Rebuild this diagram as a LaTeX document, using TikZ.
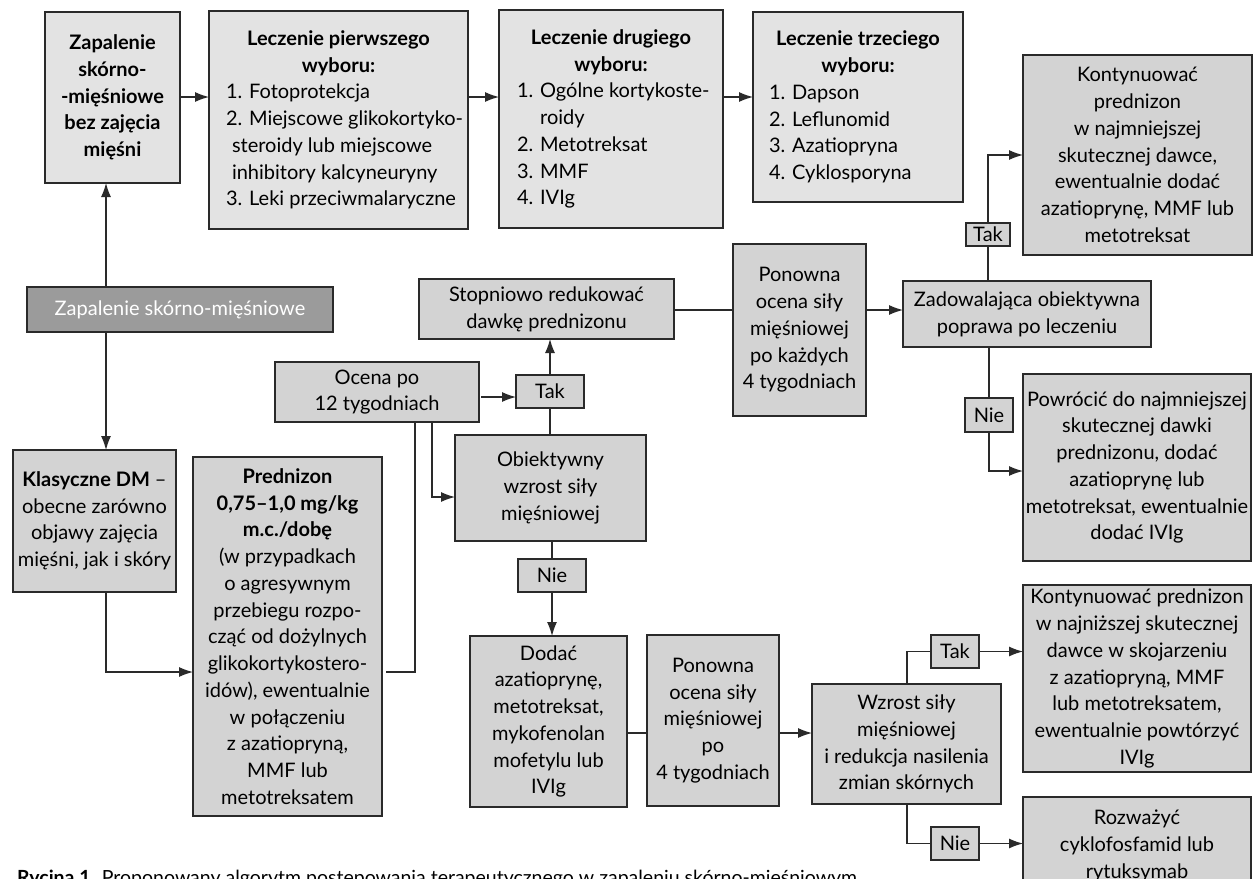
\documentclass[tikz,border=0pt]{standalone}
\usepackage{fontspec}
\setmainfont{Lato}
\usetikzlibrary{arrows.meta}
\definecolor{lightbox}{HTML}{E3E3E3}
\definecolor{midbox}{HTML}{D3D3D3}
\definecolor{darkbox}{HTML}{9B9B9B}
\definecolor{edge}{HTML}{2A2A2A}
\newcommand\diagfont{\fontsize{20}{26.75}\selectfont}
\begin{document}
\begin{tikzpicture}[x=1pt,y=-1pt,
  box/.style={draw=edge, line width=1.2pt, inner sep=0pt, outer sep=0pt, align=center, font=\diagfont},
  lbox/.style={box, fill=lightbox},
  mbox/.style={box, fill=midbox},
  dbox/.style={box, fill=darkbox, text=white},
  conn/.style={draw=edge, line width=1.2pt},
  arr/.style={conn, -{Latex[length=14pt,width=10pt]}}]
\useasboundingbox[fill=white] (0,0) rectangle (1258,878);

% top row
\node[lbox, minimum width=135, minimum height=171] (A) at (112.5,97.5)
  {\bfseries Zapalenie\\\bfseries skórno-\\\bfseries -mięśniowe\\\bfseries bez zajęcia\\\bfseries mięśni};
\node[lbox, minimum width=259, minimum height=218] (B) at (338.5,120)
  {\parbox{225pt}{\centering\bfseries Leczenie pierwszego\\wyboru:\par\raggedright\mdseries
   \mbox{1. Fotoprotekcja}\\\mbox{2. Miejscowe glikokortyko-}\\\mbox{\hspace*{6pt}steroidy lub miejscowe}\\\mbox{\hspace*{6pt}inhibitory kalcyneuryny}\\\mbox{3. Leki przeciwmalaryczne}}};
\node[lbox, minimum width=224, minimum height=218] (C) at (611,119)
  {\parbox{188pt}{\centering\bfseries Leczenie drugiego\\wyboru:\par\raggedright\mdseries
   \mbox{1. Ogólne kortykoste-}\\\mbox{\phantom{1. }roidy}\\\mbox{2. Metotreksat}\\\mbox{3. MMF}\\\mbox{4. IVIg}}};
\node[lbox, minimum width=210, minimum height=190] (D) at (858,107)
  {\parbox{178pt}{\centering\bfseries Leczenie trzeciego\\wyboru:\par\raggedright\mdseries
   \mbox{1. Dapson}\\\mbox{2. Leflunomid}\\\mbox{3. Azatiopryna}\\\mbox{4. Cyklosporyna}}};
\node[mbox, minimum width=229, minimum height=200] (E) at (1137.5,155)
  {Kontynuować\\prednizon\\w najmniejszej\\skutecznej dawce,\\ewentualnie dodać\\azatioprynę, MMF lub\\metotreksat};

% left column
\node[dbox, minimum width=306, minimum height=45] (ZSM) at (180,309.5) {Zapalenie skórno-mięśniowe};
\node[mbox, minimum width=163, minimum height=142] (Kl) at (94.5,521)
  {\textbf{Klasyczne DM} –\\obecne zarówno\\objawy zajęcia\\mięśni, jak i skóry};
\node[mbox, minimum width=189, minimum height=359] (Pred) at (287.5,636.5)
  {\textbf{Prednizon}\\\textbf{0,75–1,0 mg/kg}\\\textbf{m.c./dobę}\\(w przypadkach\\o agresywnym\\przebiegu rozpo-\\cząć od dożylnych\\glikokortykostero-\\idów), ewentualnie\\w połączeniu\\z azatiopryną,\\MMF lub\\metotreksatem};

% middle
\node[mbox, minimum width=255, minimum height=60] (Stop) at (546.5,309) {Stopniowo redukować\\dawkę prednizonu};
\node[mbox, minimum width=133, minimum height=172] (Pon1) at (799.5,330)
  {Ponowna\\ocena siły\\mięśniowej\\po każdych\\4 tygodniach};
\node[mbox, minimum width=248, minimum height=66] (Zad) at (1027,314) {Zadowalająca obiektywna\\poprawa po leczeniu};
\node[mbox, minimum width=44, minimum height=23] (TakTop) at (988,234.5) {Tak};
\node[mbox, minimum width=48, minimum height=34] (NieTop) at (989,415) {Nie};
\node[mbox, minimum width=228, minimum height=187] (H) at (1137,467.5)
  {Powrócić do najmniejszej\\skutecznej dawki\\prednizonu, dodać\\azatioprynę lub\\metotreksat, ewentualnie\\dodać IVIg};

\node[mbox, minimum width=204, minimum height=60] (Ocena) at (377,392) {Ocena po\\12 tygodniach};
\node[mbox, minimum width=68, minimum height=33] (TakMid) at (550,391.5) {Tak};
\node[mbox, minimum width=191, minimum height=106] (Obj) at (550.5,488) {Obiektywny\\wzrost siły\\mięśniowej};
\node[mbox, minimum width=68, minimum height=33] (NieMid) at (552,575.5) {Nie};

% bottom
\node[mbox, minimum width=157, minimum height=171] (Dod) at (548.5,721.5)
  {Dodać\\azatioprynę,\\metotreksat,\\mykofenolan\\mofetylu lub\\IVIg};
\node[mbox, minimum width=132, minimum height=171] (Pon2) at (713,720.5)
  {Ponowna\\ocena siły\\mięśniowej\\po\\4 tygodniach};
\node[mbox, minimum width=189, minimum height=120] (Wz) at (906.5,744)
  {Wzrost siły\\mięśniowej\\i redukcja nasilenia\\zmian skórnych};
\node[mbox, minimum width=48, minimum height=33] (TakBot) at (955,651.5) {Tak};
\node[mbox, minimum width=48, minimum height=33] (NieBot) at (955,843.5) {Nie};
\node[mbox, minimum width=228, minimum height=187] (F) at (1137,678.5)
  {Kontynuować prednizon\\w najniższej skutecznej\\dawce w skojarzeniu\\z azatiopryną, MMF\\lub metotreksatem,\\ewentualnie powtórzyć\\IVIg};
\node[mbox, minimum width=228, minimum height=98] (G) at (1137,846)
  {Rozważyć\\cyklofosfamid lub\\rytuksymab};

% caption
\node[anchor=base west, inner sep=0pt, font=\fontsize{19.5}{22}\selectfont] (cap) at (17,884)
  {\textbf{Rycina 1.} Proponowany algorytm postępowania terapeutycznego w zapaleniu skórno-mięśniowym};

% helper coordinates
\coordinate (c1) at (106,0);
\coordinate (c2) at (0,672);
\coordinate (c3) at (415,0);
\coordinate (c4) at (432,0);
\coordinate (c5) at (0,497);
\coordinate (c6) at (0,397);
\coordinate (c7) at (0,733);
\coordinate (c8) at (907,0);
\coordinate (c9) at (0,310);
\coordinate (c10) at (0,155);
\coordinate (c11) at (0,471);
\coordinate (c12) at (0,97);

% connectors
\draw[arr] (A.east |- c12) -- (B.west |- c12);
\draw[arr] (B.east |- c12) -- (C.west |- c12);
\draw[arr] (C.east |- c12) -- (D.west |- c12);
\draw[arr] (ZSM.north -| c1) -- (A.south -| c1);
\draw[arr] (ZSM.south -| c1) -- (Kl.north -| c1);
\draw[arr] (Kl.south -| c1) |- (Pred.west |- c2);
\draw[conn] ([xshift=4pt]Pred.east |- c2) -| (Ocena.south -| c3);
\draw[arr] (Ocena.south -| c4) |- (Obj.west |- c5);
\draw[arr] ([xshift=2pt]Ocena.east |- c6) -- (TakMid.west |- c6);
\draw[conn] (Obj.north -| TakMid) -- (TakMid.south);
\draw[arr] (TakMid.north) -- (Stop.south -| TakMid);
\draw[conn] (Obj.south -| NieMid) -- (NieMid.north);
\draw[arr] (NieMid.south) -- (Dod.north -| NieMid);
\draw[conn] (Dod.east |- c7) -- (Pon2.west |- c7);
\draw[arr] (Pon2.east |- c7) -- (Wz.west |- c7);
\draw[conn] (Wz.north -| c8) |- (TakBot.west);
\draw[arr] (TakBot.east) -- (F.west |- TakBot);
\draw[conn] (Wz.south -| c8) |- (NieBot.west);
\draw[arr] (NieBot.east) -- (G.west |- NieBot);
\draw[conn] (Stop.east |- c9) -- (Pon1.west |- c9);
\draw[arr] (Pon1.east |- c9) -- (Zad.west |- c9);
\draw[conn] (Zad.north -| TakTop) -- (TakTop.south);
\draw[arr] (TakTop.north) |- (E.west |- c10);
\draw[conn] (Zad.south -| NieTop) -- (NieTop.north);
\draw[arr] (NieTop.south) |- (H.west |- c11);
\end{tikzpicture}
\end{document}
